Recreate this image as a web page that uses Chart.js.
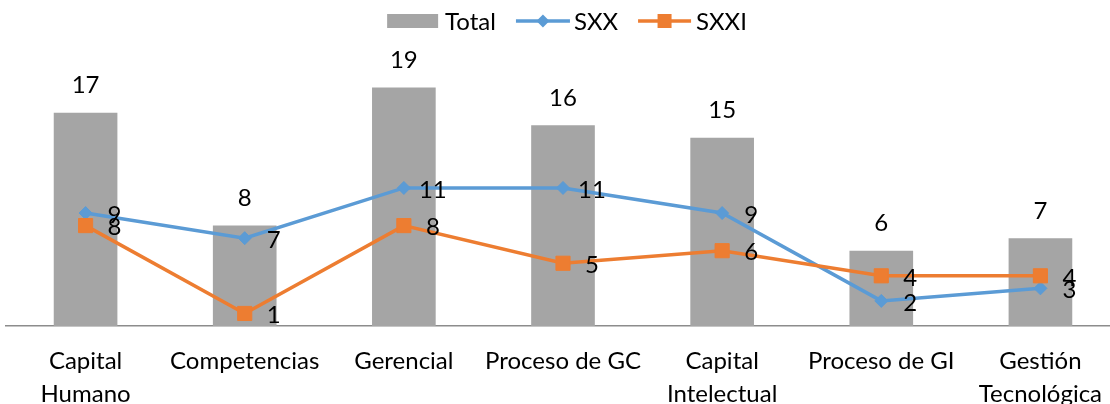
<!DOCTYPE html>
<html>
<head>
<meta charset="utf-8">
<script src="https://cdn.jsdelivr.net/npm/chart.js@4"></script>
<style>
  html, body { margin: 0; padding: 0; background: #fff; overflow: hidden; }
</style>
</head>
<body>
<canvas id="grafico" width="1120" height="404"></canvas>
<script>
const categorias = [
    ['Capital', 'Humano'],
    'Competencias',
    'Gerencial',
    'Proceso de GC',
    ['Capital', 'Intelectual'],
    'Proceso de GI',
    ['Gestión', 'Tecnológica']
];
const total = [17, 8, 19, 16, 15, 6, 7];
const sxx = [9, 7, 11, 11, 9, 2, 3];
const sxxi = [8, 1, 8, 5, 6, 4, 4];

const FUENTE = 'Lato, "Open Sans", sans-serif';
const GRIS = '#a5a5a5';
const AZUL = '#5b9bd5';
const NARANJA = '#ed7d31';

// etiquetas de valores (no hay plugin datalabels)
const etiquetas = {
    id: 'etiquetas',
    afterDatasetsDraw(chart) {
        const ctx = chart.ctx;
        ctx.save();
        ctx.font = '24px ' + FUENTE;
        ctx.fillStyle = '#000';
        ctx.textAlign = 'center';
        ctx.textBaseline = 'middle';
        chart.data.datasets.forEach((ds, i) => {
            const meta = chart.getDatasetMeta(i);
            meta.data.forEach((el, j) => {
                const v = ds.data[j];
                if (ds.type === 'bar') {
                    ctx.fillText(v, el.x, el.y - 27);
                } else {
                    ctx.fillText(v, el.x + 29, el.y + 2);
                }
            });
        });
        ctx.restore();
    }
};

// leyenda dibujada a mano: linea + marcador como en Excel
const leyenda = {
    id: 'leyenda',
    afterDraw(chart) {
        const ctx = chart.ctx;
        ctx.save();
        ctx.font = '24px ' + FUENTE;
        ctx.textBaseline = 'middle';
        const items = [
            { texto: 'Total', tipo: 'barra', color: GRIS, ancho: 51, sep: 7 },
            { texto: 'SXX', tipo: 'rombo', color: AZUL, ancho: 54, sep: 4 },
            { texto: 'SXXI', tipo: 'cuadro', color: NARANJA, ancho: 53, sep: 5 }
        ];
        const hueco = 20;
        let anchoTotal = 0;
        items.forEach((it, k) => {
            it.w = ctx.measureText(it.texto).width;
            anchoTotal += it.ancho + it.sep + it.w + (k ? hueco : 0);
        });
        let x = 567 - anchoTotal / 2;
        const y = 21;
        items.forEach(it => {
            ctx.fillStyle = it.color;
            ctx.strokeStyle = it.color;
            if (it.tipo === 'barra') {
                ctx.fillRect(x, y - 7, it.ancho, 14);
            } else {
                ctx.lineWidth = 3.5;
                ctx.beginPath();
                ctx.moveTo(x, y);
                ctx.lineTo(x + it.ancho, y);
                ctx.stroke();
                const cx = x + it.ancho / 2;
                ctx.beginPath();
                if (it.tipo === 'rombo') {
                    ctx.moveTo(cx, y - 6.5);
                    ctx.lineTo(cx + 6.5, y);
                    ctx.lineTo(cx, y + 6.5);
                    ctx.lineTo(cx - 6.5, y);
                    ctx.closePath();
                    ctx.fill();
                } else {
                    ctx.fillRect(cx - 7, y - 7, 14, 14);
                }
            }
            x += it.ancho + it.sep;
            ctx.fillStyle = '#000';
            ctx.textAlign = 'left';
            ctx.fillText(it.texto, x, y + 1);
            x += it.w + hueco;
        });
        ctx.restore();
    }
};

new Chart(document.getElementById('grafico'), {
    data: {
        labels: categorias,
        datasets: [
            {
                type: 'line',
                label: 'SXXI',
                data: sxxi,
                borderColor: NARANJA,
                backgroundColor: NARANJA,
                borderWidth: 3.5,
                pointStyle: 'rect',
                pointRadius: 10,
                pointBorderWidth: 1,
                tension: 0,
                order: 1
            },
            {
                type: 'line',
                label: 'SXX',
                data: sxx,
                borderColor: AZUL,
                backgroundColor: AZUL,
                borderWidth: 3.5,
                pointStyle: 'rectRot',
                pointRadius: 6.5,
                pointBorderWidth: 1,
                tension: 0,
                order: 2
            },
            {
                type: 'bar',
                label: 'Total',
                data: total,
                backgroundColor: GRIS,
                barPercentage: 0.4,
                categoryPercentage: 1,
                order: 3
            }
        ]
    },
    options: {
        responsive: false,
        animation: false,
        layout: {
            autoPadding: false,
            padding: { left: 6, top: 75, right: 0, bottom: 0 }
        },
        plugins: {
            legend: { display: false },
            tooltip: { enabled: false }
        },
        scales: {
            x: {
                grid: { display: false },
                border: { display: true, color: '#8c8c8c', width: 1.5 },
                ticks: {
                    color: '#000',
                    font: { family: FUENTE, size: 24, lineHeight: 1.375 },
                    padding: 11,
                    maxRotation: 0,
                    autoSkip: false
                },
                afterFit(scale) {
                    scale.height = 78;
                    scale.paddingLeft = 0;
                    scale.paddingRight = 0;
                }
            },
            y: {
                display: false,
                min: 0,
                max: 20
            }
        }
    },
    plugins: [etiquetas, leyenda]
});
</script>
</body>
</html>
